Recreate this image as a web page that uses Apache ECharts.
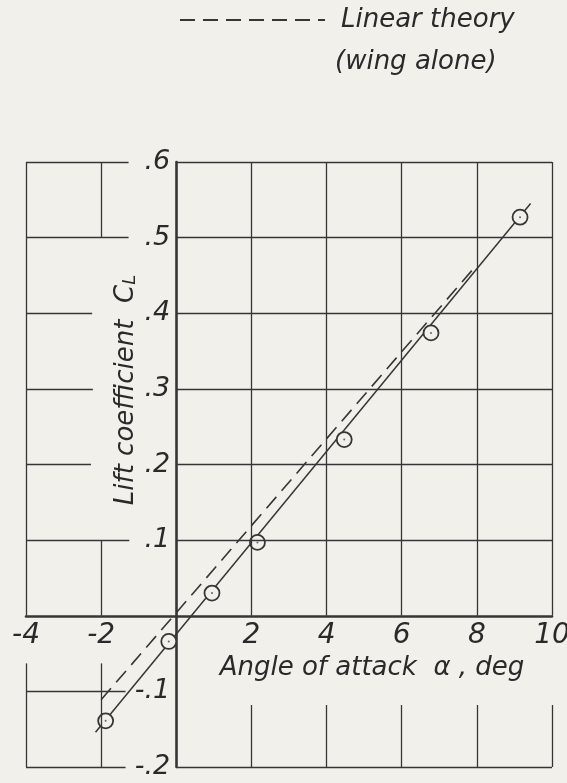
<!DOCTYPE html>
<html>
<head>
<meta charset="utf-8">
<script src="https://cdn.jsdelivr.net/npm/echarts@6/dist/echarts.min.js"></script>
<style>
  html, body { margin: 0; padding: 0; background: #f1f0eb; }
  #chart { width: 567px; height: 783px; }
</style>
</head>
<body>
<div id="chart"></div>
<script>
// ---- data ----
var alphaDeg = [-1.88, -0.20, 0.95, 2.16, 4.47, 6.78, 9.15];
var liftCL   = [-0.139, -0.034, 0.030, 0.097, 0.233, 0.374, 0.527];
var fairedLineX = [-2.15, 9.43];
var fairedLineY = [-0.154, 0.545];
var theoryX = [-2.0, 7.98];
var theoryY = [-0.111, 0.463];
var xTicks = [-4, -2, 2, 4, 6, 8, 10];
var yTicks = [-0.2, -0.1, 0.1, 0.2, 0.3, 0.4, 0.5, 0.6];
var legendName = 'Linear theory';
var legendSub = '(wing alone)';
var xTitle = 'Angle of attack  \u03b1 , deg';
var yTitle = 'Lift coefficient';

// partial grid segments, in data units [x1, y1, x2, y2]
var gridSegments = [
  // upper right full grid
  [0, 0.1, 10, 0.1], [0, 0.2, 10, 0.2], [0, 0.3, 10, 0.3], [0, 0.4, 10, 0.4], [0, 0.5, 10, 0.5], [0, 0.6, 10, 0.6],
  [2, 0, 2, 0.6], [4, 0, 4, 0.6], [6, 0, 6, 0.6], [8, 0, 8, 0.6], [10, 0, 10, 0.6],
  // upper left
  [-4, 0, -4, 0.6],
  [-4, 0.6, -1.27, 0.6], [-4, 0.5, -1.27, 0.5],
  [-4, 0.4, -2.24, 0.4], [-4, 0.3, -2.22, 0.3], [-4, 0.2, -2.27, 0.2],
  [-4, 0.1, -1.25, 0.1],
  [-2, 0.5, -2, 0.6], [-2, 0, -2, 0.1],
  // lower left
  [-4, -0.063, -4, -0.2], [-2, -0.063, -2, -0.2],
  [-4, -0.1, -1.35, -0.1], [-4, -0.2, -1.35, -0.2],
  // lower right
  [0, -0.2, 10, -0.2],
  [2, -0.118, 2, -0.2], [4, -0.118, 4, -0.2], [6, -0.118, 6, -0.2], [8, -0.118, 8, -0.2], [10, -0.118, 10, -0.2]
];

function zip(a, b) { return a.map(function (v, i) { return [v, b[i]]; }); }
function fmtY(r) { return (r < 0 ? '-' : '') + Math.abs(r).toFixed(1).replace(/^0/, ''); }

var ink = '#363636';
var textInk = '#2a2a2a';
var bg = '#f1f0eb';
var fontFam = '"DejaVu Sans", "Liberation Sans", sans-serif';

var chart = echarts.init(document.getElementById('chart'), null, { renderer: 'canvas' });

var option = {
  backgroundColor: bg,
  animation: false,
  grid: { left: 26, right: 15, top: 162, bottom: 16, containLabel: false, outerBoundsMode: 'none' },
  legend: {
    data: [legendName],
    left: 179, top: 7, padding: 0,
    itemWidth: 145, itemHeight: 14,
    itemStyle: { opacity: 0 },
    textStyle: { color: textInk, fontSize: 26, fontStyle: 'italic', fontFamily: fontFam, padding: [0, 0, 0, 11] },
    selectedMode: false
  },
  xAxis: {
    type: 'value', min: -4, max: 10, interval: 2,
    axisLine: { show: true, onZero: true, lineStyle: { color: ink, width: 2.6 } },
    axisTick: { show: false },
    splitLine: { show: false },
    axisLabel: { show: false }
  },
  yAxis: {
    type: 'value', min: -0.2, max: 0.6, interval: 0.1,
    axisLine: { show: true, onZero: true, lineStyle: { color: ink, width: 2.6 } },
    axisTick: { show: false },
    splitLine: { show: false },
    axisLabel: { show: false }
  },
  graphic: [
    {
      type: 'text', x: 335, y: 62,
      style: { text: legendSub, fill: textInk, font: 'italic 26px ' + fontFam, align: 'left', verticalAlign: 'middle' }
    },
    {
      type: 'text', x: 372, y: 668,
      style: { text: xTitle, fill: textInk, font: 'italic 26px ' + fontFam, align: 'center', verticalAlign: 'middle' }
    },
    {
      type: 'text', x: 124, y: 390, rotation: Math.PI / 2,
      style: {
        text: '{a|' + yTitle + '  C}{s|L}',
        align: 'center', verticalAlign: 'middle',
        rich: {
          a: { fill: textInk, font: 'italic 26px ' + fontFam, lineHeight: 30, verticalAlign: 'bottom' },
          s: { fill: textInk, font: 'italic 18px ' + fontFam, lineHeight: 10, verticalAlign: 'bottom' }
        }
      }
    }
  ],
  series: [
    {
      name: 'grid', type: 'line', data: [], silent: true, z: 1,
      markLine: {
        silent: true, symbol: ['none', 'none'], animation: false,
        label: { show: false },
        lineStyle: { color: ink, width: 1.3, type: 'solid' },
        emphasis: { disabled: true },
        data: gridSegments.map(function (s) { return [{ coord: [s[0], s[1]] }, { coord: [s[2], s[3]] }]; })
      }
    },
    {
      name: 'xTickLabels', type: 'scatter', silent: true, symbolSize: 0, z: 6,
      itemStyle: { opacity: 1 },
      data: xTicks.map(function (v) { return [v, 0]; }),
      label: {
        show: true, position: 'bottom', distance: 6, opacity: 1,
        color: textInk, fontSize: 28, fontStyle: 'italic', fontFamily: fontFam,
        formatter: function (p) { return String(p.value[0]); }
      }
    },
    {
      name: 'yTickLabels', type: 'scatter', silent: true, symbolSize: 0, z: 6,
      itemStyle: { opacity: 1 },
      data: yTicks.map(function (v) { return [0, v]; }),
      label: {
        show: true, position: 'left', distance: 6, opacity: 1,
        color: textInk, fontSize: 27, fontStyle: 'italic', fontFamily: fontFam,
        formatter: function (p) { return fmtY(p.value[1]); }
      }
    },
    {
      name: legendName, type: 'line', data: zip(theoryX, theoryY),
      symbol: 'none', silent: true, z: 3,
      lineStyle: { color: ink, width: 1.6, type: [15, 8] }
    },
    {
      name: 'faired', type: 'line', data: zip(fairedLineX, fairedLineY),
      symbol: 'none', silent: true, z: 3,
      lineStyle: { color: ink, width: 1.5 }
    },
    {
      name: 'test', type: 'scatter', data: zip(alphaDeg, liftCL),
      symbol: 'circle', symbolSize: 15, silent: true, z: 4,
      itemStyle: { color: bg, borderColor: ink, borderWidth: 1.8, opacity: 1 }
    },
    {
      name: 'centers', type: 'scatter', data: zip(alphaDeg, liftCL),
      symbol: 'circle', symbolSize: 2, silent: true, z: 5,
      itemStyle: { color: '#666', opacity: 1 }
    }
  ]
};
chart.setOption(option);
</script>
</body>
</html>
